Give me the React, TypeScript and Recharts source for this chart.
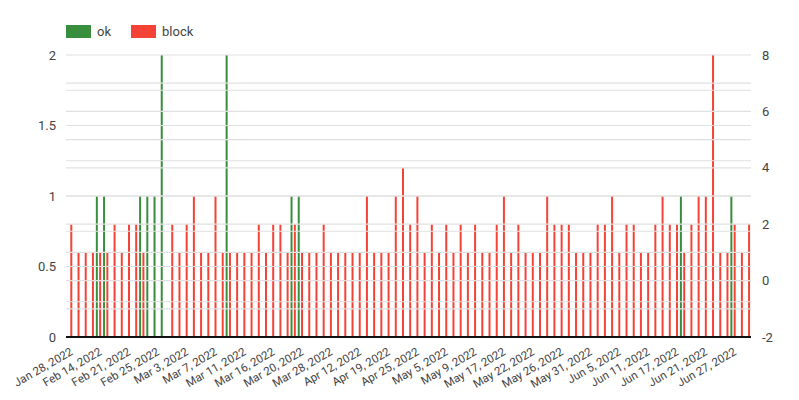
import { Bar, BarChart, Legend, ReferenceLine, XAxis, YAxis } from "recharts";
import { type JSX } from "react";

// one entry per day that has data
const dates: string[] = [
  "Jan 28, 2022", "Jan 31, 2022", "Feb 2, 2022", "Feb 9, 2022",
  "Feb 14, 2022", "Feb 15, 2022", "Feb 16, 2022", "Feb 18, 2022",
  "Feb 21, 2022", "Feb 22, 2022", "Feb 23, 2022", "Feb 24, 2022",
  "Feb 25, 2022", "Feb 28, 2022", "Mar 1, 2022", "Mar 2, 2022",
  "Mar 3, 2022", "Mar 4, 2022", "Mar 5, 2022", "Mar 6, 2022",
  "Mar 7, 2022", "Mar 8, 2022", "Mar 9, 2022", "Mar 10, 2022",
  "Mar 11, 2022", "Mar 13, 2022", "Mar 14, 2022", "Mar 15, 2022",
  "Mar 16, 2022", "Mar 17, 2022", "Mar 18, 2022", "Mar 19, 2022",
  "Mar 20, 2022", "Mar 22, 2022", "Mar 24, 2022", "Mar 25, 2022",
  "Mar 28, 2022", "Mar 31, 2022", "Apr 5, 2022", "Apr 8, 2022",
  "Apr 12, 2022", "Apr 13, 2022", "Apr 14, 2022", "Apr 18, 2022",
  "Apr 19, 2022", "Apr 20, 2022", "Apr 21, 2022", "Apr 22, 2022",
  "Apr 25, 2022", "Apr 27, 2022", "Apr 29, 2022", "May 3, 2022",
  "May 5, 2022", "May 6, 2022", "May 7, 2022", "May 8, 2022",
  "May 9, 2022", "May 11, 2022", "May 13, 2022", "May 16, 2022",
  "May 17, 2022", "May 18, 2022", "May 19, 2022", "May 20, 2022",
  "May 22, 2022", "May 23, 2022", "May 24, 2022", "May 25, 2022",
  "May 26, 2022", "May 27, 2022", "May 29, 2022", "May 30, 2022",
  "May 31, 2022", "Jun 1, 2022", "Jun 2, 2022", "Jun 3, 2022",
  "Jun 5, 2022", "Jun 6, 2022", "Jun 7, 2022", "Jun 9, 2022",
  "Jun 11, 2022", "Jun 13, 2022", "Jun 14, 2022", "Jun 15, 2022",
  "Jun 17, 2022", "Jun 18, 2022", "Jun 19, 2022", "Jun 20, 2022",
  "Jun 21, 2022", "Jun 22, 2022", "Jun 23, 2022", "Jun 24, 2022",
  "Jun 27, 2022", "Jun 28, 2022", "Jun 29, 2022",
];

const ok: (number | null)[] = [
  null, null, null, null, 1, 1, null, null, null, null, 1, 1, 1, 2, null, null,
  null, null, null, null, null, null, 2, null, null, null, null, null, null, null,
  null, 1, 1, null, null, null, null, null, null, null, null, null, null, null,
  null, null, null, null, null, null, null, null, null, null, null, null, null,
  null, null, null, null, null, null, null, null, null, null, null, null, null,
  null, null, null, null, null, null, null, null, null, null, null, null, null,
  null, null, 1, null, null, null, null, null, null, 1, null, null,
];

const block: (number | null)[] = [
  2, 1, 1, 1, 1, 1, 2, 1, 2, 2, 1, null, null, null, 2, 1,
  2, 3, 1, 1, 3, 1, 1, 1, 1, 1, 2, 1, 2, 2, 1, 2,
  1, 1, 1, 2, 1, 1, 1, 1, 1, 3, 1, 1, 1, 3, 4, 2,
  3, 1, 2, 1, 2, 1, 2, 1, 2, 1, 1, 2, 3, 1, 2, 1,
  1, 1, 3, 2, 2, 2, 1, 1, 1, 2, 2, 3, 1, 2, 2, 1,
  1, 2, 3, 2, 2, 1, 2, 3, 3, 8, 1, 1, 2, 1, 2,
];

const leftTicks = [0, 0.5, 1, 1.5, 2];
const rightTicks = [-2, 0, 2, 4, 6, 8];
const leftGrid = [0.25, 0.5, 0.75, 1, 1.25, 1.5, 1.75, 2];
const rightGrid = [-1, 0, 1, 2, 3, 4, 5, 6, 7];

const GREEN = "#388e3c";
const RED = "#f44336";
const GRID = "#e0e0e0";
const TEXT = "#444";

const data = dates.map((date, i) => ({ date, ok: ok[i], block: block[i] }));

const legendItems = [
  { name: "ok", color: GREEN },
  { name: "block", color: RED },
];

const renderLegend = () => (
  <div style={{ display: "flex", alignItems: "center", height: 20, fontSize: 13, color: TEXT }}>
    {legendItems.map((item) => (
      <div key={item.name} style={{ display: "flex", alignItems: "center", marginRight: 20 }}>
        <span
          style={{ display: "inline-block", width: 25, height: 13, background: item.color, marginRight: 6 }}
        />
        <span>{item.name}</span>
      </div>
    ))}
  </div>
);

const App = (): JSX.Element => {
  return (
    <div style={{ fontFamily: "Roboto, sans-serif" }}>
      <BarChart
        width={783}
        height={384}
        data={data}
        margin={{ top: 27, right: 0, bottom: 0, left: 0 }}
        barSize={2}
        barGap={1.3}
      >
        <Legend verticalAlign="top" align="left" content={renderLegend} wrapperStyle={{ top: 13, left: 58 }} />
        {leftGrid.map((v) => (
          <ReferenceLine key={`l-${v}`} yAxisId="left" y={v} stroke={GRID} strokeWidth={1.2} />
        ))}
        {rightGrid.map((v) => (
          <ReferenceLine key={`r-${v}`} yAxisId="right" y={v} stroke={GRID} strokeWidth={1.2} />
        ))}
        <XAxis
          dataKey="date"
          interval={3}
          height={55}
          angle={-30}
          textAnchor="end"
          tickLine={false}
          tickMargin={4}
          axisLine={{ stroke: "#111", strokeWidth: 2 }}
          tick={{ fontSize: 11.5, fill: TEXT }}
        />
        <YAxis
          yAxisId="left"
          orientation="left"
          width={58}
          domain={[0, 2]}
          ticks={leftTicks}
          axisLine={false}
          tickLine={false}
          tickSize={0}
          tickMargin={10}
          tick={{ fontSize: 13, fill: TEXT }}
        />
        <YAxis
          yAxisId="right"
          orientation="right"
          width={40}
          domain={[-2, 8]}
          ticks={rightTicks}
          axisLine={false}
          tickLine={false}
          tickSize={0}
          tickMargin={11}
          tick={{ fontSize: 13, fill: TEXT }}
        />
        <Bar yAxisId="left" dataKey="ok" name="ok" fill={GREEN} isAnimationActive={false} />
        <Bar
          yAxisId="right"
          dataKey={(d: { block: number | null }) => (d.block == null ? null : [-2, d.block])}
          name="block"
          fill={RED}
          isAnimationActive={false}
        />
      </BarChart>
    </div>
  );
};

export default App;
